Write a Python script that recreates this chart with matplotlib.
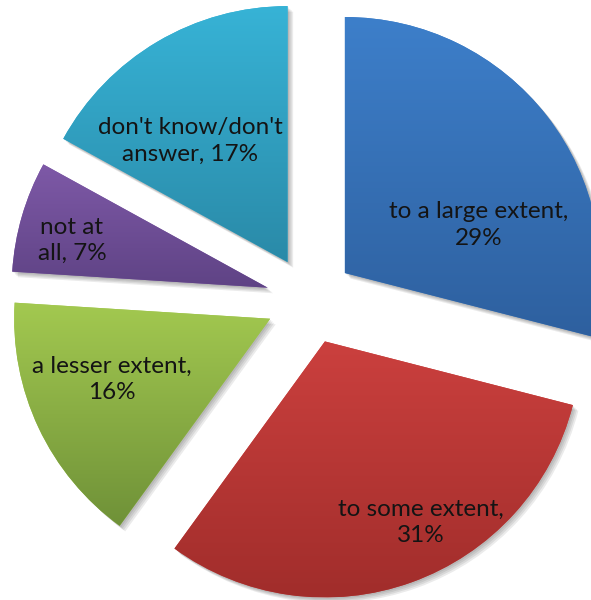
import numpy as np
import matplotlib
matplotlib.use("Agg")
import matplotlib.pyplot as plt
import matplotlib.patheffects as pe
from matplotlib.colors import to_rgb

# survey answers, clockwise from 12 o'clock
categories = ["to a large extent", "to some extent", "a lesser extent",
              "not at all", "don't know/don't answer"]
shares = [29, 31, 16, 7, 17]
label_text = ["to a large extent,\n29%", "to some extent,\n31%",
              "a lesser extent,\n16%", "not at\nall, 7%",
              "don't know/don't\nanswer, 17%"]

# light (top) -> dark (bottom) shade for each slice
top_colors = ["#3d7fca", "#cb403e", "#a3c950", "#7e59a7", "#37b3d6"]
bottom_colors = ["#2e609f", "#a12d2b", "#6f9138", "#5f4385", "#2a8aa8"]

# where each label sits (data units, pie radius = 1)
label_xy = [(0.660, 0.293), (0.434, -0.867), (-0.773, -0.309),
            (-0.930, 0.234), (-0.469, 0.621)]

W, H = 591, 600
R_PX = 256
cx, cy = 310, 300

fig = plt.figure(figsize=(W / 100, H / 100), dpi=100)
ax = fig.add_axes([0, 0, 1, 1])

wedges, _ = ax.pie(shares, startangle=90, counterclock=False,
                   explode=[0.172] * len(shares), radius=1.0,
                   colors=top_colors, wedgeprops=dict(linewidth=0))

shadow = [pe.SimplePatchShadow(offset=(o, -o), shadow_rgbFace="#000000", alpha=0.08)
          for o in (1, 2, 3, 4)] + [pe.Normal()]

for w, c0, c1 in zip(wedges, top_colors, bottom_colors):
    w.set_path_effects(shadow)
    w.set_zorder(1)
    ext = w.get_path().get_extents()
    t = np.linspace(0, 1, 256)[:, None]
    a, b = np.array(to_rgb(c0)), np.array(to_rgb(c1))
    grad = (a[None, :] * (1 - t) + b[None, :] * t)[:, None, :]
    im = ax.imshow(grad, extent=(ext.x0, ext.x1, ext.y0, ext.y1),
                   origin="upper", aspect="auto", zorder=2,
                   interpolation="bilinear")
    im.set_clip_path(w)

for (x, y), s in zip(label_xy, label_text):
    ax.text(x, y, s, ha="center", va="center", fontsize=17.5,
            family="Lato", color="#141414", linespacing=1.3, zorder=3)

ax.set_xlim(-cx / R_PX, (W - cx) / R_PX)
ax.set_ylim(-(H - cy) / R_PX, cy / R_PX)
ax.set_aspect("auto")
ax.set_axis_off()

fig.savefig("out.png", dpi=100)
